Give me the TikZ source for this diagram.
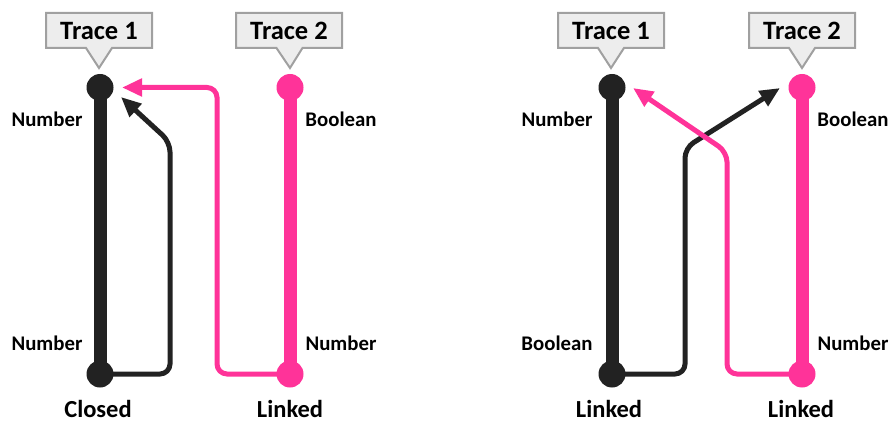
\documentclass[tikz,border=0pt]{standalone}
\usepackage{fontspec}
\setmainfont{Carlito}
\usetikzlibrary{arrows.meta,shapes.callouts}
\definecolor{ink}{HTML}{222222}
\definecolor{hot}{HTML}{FF3399}
\definecolor{tagfill}{HTML}{EDEDED}
\definecolor{tagline}{HTML}{A0A0A0}

\begin{document}
\begin{tikzpicture}[x=1pt,y=-1pt,
  tag/.style={rectangle callout, draw=tagline, fill=tagfill, line width=2pt,
    minimum width=106pt, minimum height=35pt, inner sep=0pt,
    callout pointer width=26pt, text depth=0pt,
    font=\fontsize{26.5}{26.5}\selectfont\bfseries},
  dot/.style={circle, inner sep=0pt, minimum size=27pt},
  bar/.style={line width=13pt},
  link/.style={line width=5pt, rounded corners=10pt,
    -{Triangle[length=20pt,width=17pt]}},
  side/.style={font=\fontsize{20.8}{20.8}\selectfont\bfseries, anchor=base},
  verdict/.style={font=\fontsize{24.5}{24.5}\selectfont\bfseries, anchor=base},
]
\useasboundingbox (0,0) rectangle (891,422);

% ---------- left panel: closed trace ----------
\node[dot, fill=ink] (a1top) at (100,87.5) {};
\node[dot, fill=ink] (a1bot) at (100,374) {};
\node[dot, fill=hot] (a2top) at (290,87.5) {};
\node[dot, fill=hot] (a2bot) at (290,374) {};
\coordinate (a1tip) at (121,97);
\coordinate (a2tip) at (122,87.5);

\draw[link, ink] (a1bot.center) -- (170,374) -- (170,142) -- (a1tip);
\draw[link, hot] (a2bot.center) -- (217,374) -- (217,87.5) -- (a2tip);
\draw[bar, ink] (a1top.center) -- (a1bot.center);
\draw[bar, hot] (a2top.center) -- (a2bot.center);

\node[tag, callout absolute pointer={(99,68)}] (atag1) at (99,30.5) {Trace 1};
\node[tag, callout absolute pointer={(290,68)}] (atag2) at (289,30.5) {Trace 2};

\node[side] (an1) at (47,126.5) {Number};
\node[side] (ab2) at (341,126.5) {Boolean};
\node[side] (an3) at (47,350) {Number};
\node[side] (an4) at (341,350) {Number};
\node[verdict] (av1) at (98,417) {Closed};
\node[verdict] (av2) at (290,417) {Linked};

% ---------- right panel: crossed links ----------
\node[dot, fill=ink] (b1top) at (612,87.5) {};
\node[dot, fill=ink] (b1bot) at (612,374) {};
\node[dot, fill=hot] (b2top) at (802,87.5) {};
\node[dot, fill=hot] (b2bot) at (802,374) {};
\coordinate (b1tip) at (780,88);
\coordinate (b2tip) at (633,88);

\draw[link, ink] (b1bot.center) -- (685,374) -- (685,148) -- (b1tip);
\draw[link, hot] (b2bot.center) -- (727,374) -- (727,152) -- (b2tip);
\draw[bar, ink] (b1top.center) -- (b1bot.center);
\draw[bar, hot] (b2top.center) -- (b2bot.center);

\node[tag, callout absolute pointer={(611,68)}] (btag1) at (611,30.5) {Trace 1};
\node[tag, callout absolute pointer={(802,68)}] (btag2) at (802,30.5) {Trace 2};

\node[side] (bn1) at (557,126.5) {Number};
\node[side] (bb2) at (853,126.5) {Boolean};
\node[side] (bb3) at (557,350) {Boolean};
\node[side] (bn4) at (853,350) {Number};
\node[verdict] (bv1) at (609,417) {Linked};
\node[verdict] (bv2) at (801,417) {Linked};
\end{tikzpicture}
\end{document}
